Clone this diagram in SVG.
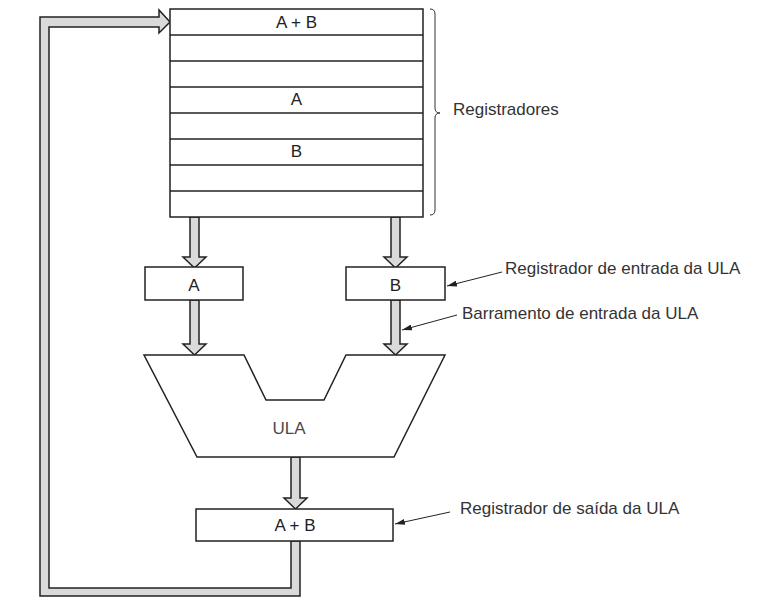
<svg xmlns="http://www.w3.org/2000/svg" width="771" height="609" viewBox="0 0 771 609">
<defs>
<style>
.box{fill:#fff;stroke:#222;stroke-width:1.5}
.bus{fill:#dadada;stroke:#222;stroke-width:1.5;stroke-linejoin:miter}
.t{font-family:"Liberation Sans",Arial,sans-serif;font-size:17px;fill:#222;text-anchor:middle}
.lbl{font-family:"Liberation Sans",Arial,sans-serif;font-size:17px;fill:#333}
.lead{stroke:#222;stroke-width:1;fill:none;marker-end:url(#ah)}
.rl{stroke:#222;stroke-width:1.3}
</style>
<marker id="ah" markerWidth="10" markerHeight="6" refX="10" refY="3" orient="auto" markerUnits="userSpaceOnUse">
<path d="M0,0 L10,3 L0,6 Z" fill="#222"/>
</marker>
</defs>
<rect width="771" height="609" fill="#fff"/>

<g id="connectors">
<polygon class="bus" points="190,217 199,217 199,257 206,257 194.5,268 183,257 190,257"/>
<polygon class="bus" points="391,217 400,217 400,257 407,257 395.5,268 384,257 391,257"/>
<polygon class="bus" points="190,300 199,300 199,344 206,344 194.5,355 183,344 190,344"/>
<polygon class="bus" points="391,300 400,300 400,344 407,344 395.5,355 384,344 391,344"/>
<polygon class="bus" points="291,457 300,457 300,498 307,498 295.5,509 284,498 291,498"/>
<polygon class="bus" points="291,541 291,588 49,588 49,27 159,27 159,33 170,22 159,10 159,17 40,17 40,596 300,596 300,541"/>
<line class="lead" x1="502" y1="272" x2="447" y2="286"/>
<line class="lead" x1="457" y1="315" x2="402" y2="330"/>
<line class="lead" x1="450" y1="512" x2="395" y2="524"/>
</g>

<g id="registradores">
<rect class="box" x="170" y="9" width="253" height="208"/>
<line class="rl" x1="170" y1="35" x2="423" y2="35"/>
<line class="rl" x1="170" y1="61" x2="423" y2="61"/>
<line class="rl" x1="170" y1="87" x2="423" y2="87"/>
<line class="rl" x1="170" y1="113" x2="423" y2="113"/>
<line class="rl" x1="170" y1="139" x2="423" y2="139"/>
<line class="rl" x1="170" y1="165" x2="423" y2="165"/>
<line class="rl" x1="170" y1="191" x2="423" y2="191"/>
<text class="t" x="296.5" y="28">A + B</text>
<text class="t" x="296.5" y="105">A</text>
<text class="t" x="296.5" y="157">B</text>
<path d="M430,9 Q435,9 435,14 L435,108 Q435,113 440,113 Q435,113 435,118 L435,210 Q435,215 430,215" fill="none" stroke="#333" stroke-width="1"/>
<text class="lbl" x="453" y="115">Registradores</text>
</g>

<g id="regA">
<rect class="box" x="145" y="267" width="98" height="33"/>
<text class="t" x="194" y="291">A</text>
</g>

<g id="regB">
<rect class="box" x="346" y="267" width="99" height="33"/>
<text class="t" x="395.5" y="291">B</text>
</g>

<g id="ula">
<polygon class="box" points="144,355 244,355 266,400 324,400 346,355 445,355 394,457 197,457"/>
<text class="t" x="289" y="434" style="fill:#4a4a4a">ULA</text>
</g>

<g id="regSaida">
<rect class="box" x="196" y="509" width="197" height="32"/>
<text class="t" x="295" y="531">A + B</text>
</g>

<g id="labels">
<text class="lbl" x="505" y="274">Registrador de entrada da ULA</text>
<text class="lbl" x="462" y="319">Barramento de entrada da ULA</text>
<text class="lbl" x="460" y="514">Registrador de saída da ULA</text>
</g>
</svg>
